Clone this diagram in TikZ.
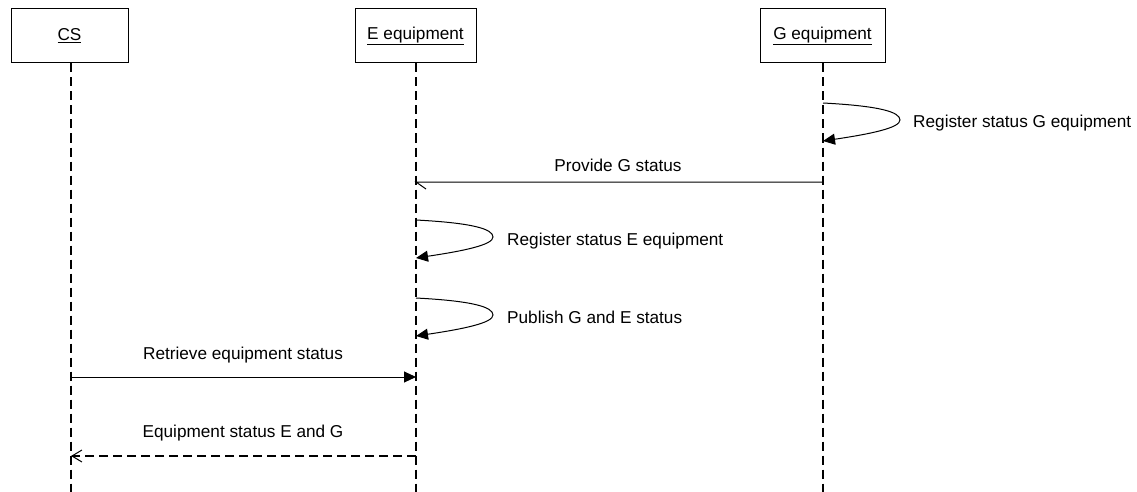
\documentclass[tikz,border=0pt]{standalone}
\usepackage{fontspec}
\setmainfont{Liberation Sans}
\usetikzlibrary{arrows.meta}
\begin{document}
\begin{tikzpicture}[x=1pt,y=-1pt,
  font=\fontsize{17.2}{20}\selectfont,
  actor/.style={draw,line width=1pt,minimum height=54pt,inner sep=0pt},
  lifeline/.style={line width=1.8pt,dash pattern=on 9pt off 5pt},
  msg/.style={line width=1pt},
  reply/.style={line width=1.8pt,dash pattern=on 9pt off 5pt,
    -{Straight Barb[length=10pt,width=12pt,line width=1pt]}},
  call/.style={line width=1pt,-{Triangle[length=12pt,width=11pt]}},
  lbl/.style={inner sep=0pt,anchor=base west}]
\useasboundingbox (0,0) rectangle (1137,492);

% participants
\node[actor,minimum width=117pt] (cs) at (69.5,36) {\underline{CS}};
\node[actor,minimum width=121pt] (e) at (415.5,36) {\underline{E equipment}};
\node[actor,minimum width=125pt] (g) at (822.5,36) {\underline{G equipment}};

% lifelines
\coordinate (csEnd) at (71,492);
\coordinate (eEnd) at (416,492);
\coordinate (gEnd) at (823,492);
\draw[lifeline] (cs.south -| csEnd) -- (csEnd);
\draw[lifeline] (e.south -| eEnd) -- (eEnd);
\draw[lifeline] (g.south -| gEnd) -- (gEnd);

% G registers its own status
\coordinate (g1a) at (823,103);
\coordinate (g1b) at (823,141);
\draw[call] (g1a) .. controls (880,106) and (900,112) .. (900,120)
  .. controls (900,128) and (870,134) .. (g1b);
\node[lbl] (l1) at (913,128) {Register status G equipment};

% G provides status to E
\coordinate (p1) at (823,182);
\coordinate (p2) at (416,182);
\draw[msg] (p1) -- (p2) -- ++(10,7);
\node[lbl,anchor=base] (l2) at (618,171) {Provide G status};

% E registers its own status
\coordinate (e1a) at (416,220);
\coordinate (e1b) at (416,258);
\draw[call] (e1a) .. controls (473,223) and (493,229) .. (493,237)
  .. controls (493,245) and (463,251) .. (e1b);
\node[lbl] (l3) at (507,245) {Register status E equipment};

% E publishes both statuses
\coordinate (e2a) at (416,298);
\coordinate (e2b) at (416,336);
\draw[call] (e2a) .. controls (473,301) and (493,307) .. (493,315)
  .. controls (493,323) and (463,329) .. (e2b);
\node[lbl] (l4) at (507,323) {Publish G and E status};

% CS retrieves the statuses
\coordinate (r1) at (71,377);
\coordinate (r2) at (416,377);
\draw[call] (r1) -- (r2);
\node[lbl,anchor=base] (l5) at (243,359) {Retrieve equipment status};

% reply to CS
\coordinate (s1) at (416,456);
\coordinate (s2) at (71,456);
\draw[reply] (s1) -- (s2);
\node[lbl,anchor=base] (l6) at (243,437) {Equipment status E and G};
\end{tikzpicture}
\end{document}
